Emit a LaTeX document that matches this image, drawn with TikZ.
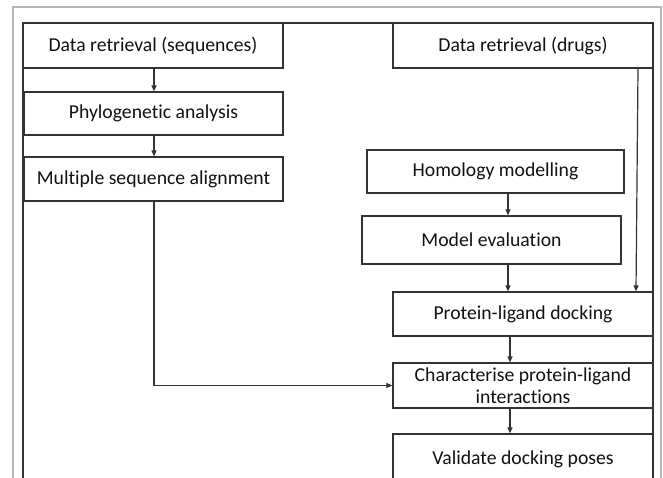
\documentclass[tikz,border=0pt]{standalone}
\usepackage{fontspec}
\setmainfont{Carlito}[Ligatures={NoCommon}]
\usetikzlibrary{arrows.meta,calc}
\definecolor{framegray}{HTML}{B4B4B4}
\definecolor{darkline}{HTML}{333333}
\definecolor{txt}{HTML}{111111}
\begin{document}
\begin{tikzpicture}[x=1pt,y=-1pt,
  box/.style={draw=darkline, line width=1.2pt, fill=white, inner sep=0pt,
    text=txt, font=\fontsize{19.7}{23.5}\selectfont, align=center},
  arr/.style={draw=darkline, line width=1.2pt, -{Triangle[length=6pt,width=5pt]}}]
\useasboundingbox (0,0) rectangle (663,478);
\clip (0,0) rectangle (663,478);
\fill[white] (0,0) rectangle (663,478);
% frames
\draw[framegray, line width=1.6pt] (13,7) rectangle (661,520);
\draw[darkline, line width=1.7pt] (23,23) rectangle (653,520);
% boxes
\node[box, minimum width=260pt, minimum height=45pt] (seq) at (153,45.5) {Data retrieval (sequences)};
\node[box, minimum width=259pt, minimum height=43pt] (phylo) at (153.5,113.5) {Phylogenetic analysis};
\node[box, minimum width=259pt, minimum height=44pt] (msa) at (153.5,179) {Multiple sequence alignment};
\node[box, minimum width=260pt, minimum height=45pt] (drugs) at (523,45.5) {Data retrieval (drugs)};
\node[box, minimum width=257pt, minimum height=43pt] (homol) at (495.5,171.5) {Homology modelling};
\node[box, minimum width=259pt, minimum height=48pt] (meval) at (491.5,240) {Model evaluation};
\node[box, minimum width=260pt, minimum height=44pt] (dock) at (523,314) {Protein-ligand docking};
\node[box, minimum width=260pt, minimum height=45pt] (char) at (523,385.5) {Characterise protein-ligand\\[-1pt]interactions};
\node[box, minimum width=260pt, minimum height=50pt] (valid) at (523,459) {Validate docking poses};
% redraw dark frame top/left/right on top of boxes
\draw[darkline, line width=1.7pt] (23,520) -- (23,23) -- (653,23) -- (653,520);
% connectors
\draw[arr] (seq.south -| 154,0) -- (phylo.north -| 154,0);
\draw[arr] (phylo.south -| 154,0) -- (msa.north -| 154,0);
\draw[arr] (msa.south -| 154,0) |- (char.west);
\draw[arr] (drugs.south -| 638,0) -- (dock.north -| 636,0);
\draw[arr] (homol.south -| 508,0) -- (meval.north -| 508,0);
\draw[arr] (meval.south -| 508,0) -- (dock.north -| 508,0);
\draw[arr] (dock.south -| 510,0) -- (char.north -| 510,0);
\draw[arr] (char.south -| 510,0) -- (valid.north -| 510,0);
\end{tikzpicture}
\end{document}
